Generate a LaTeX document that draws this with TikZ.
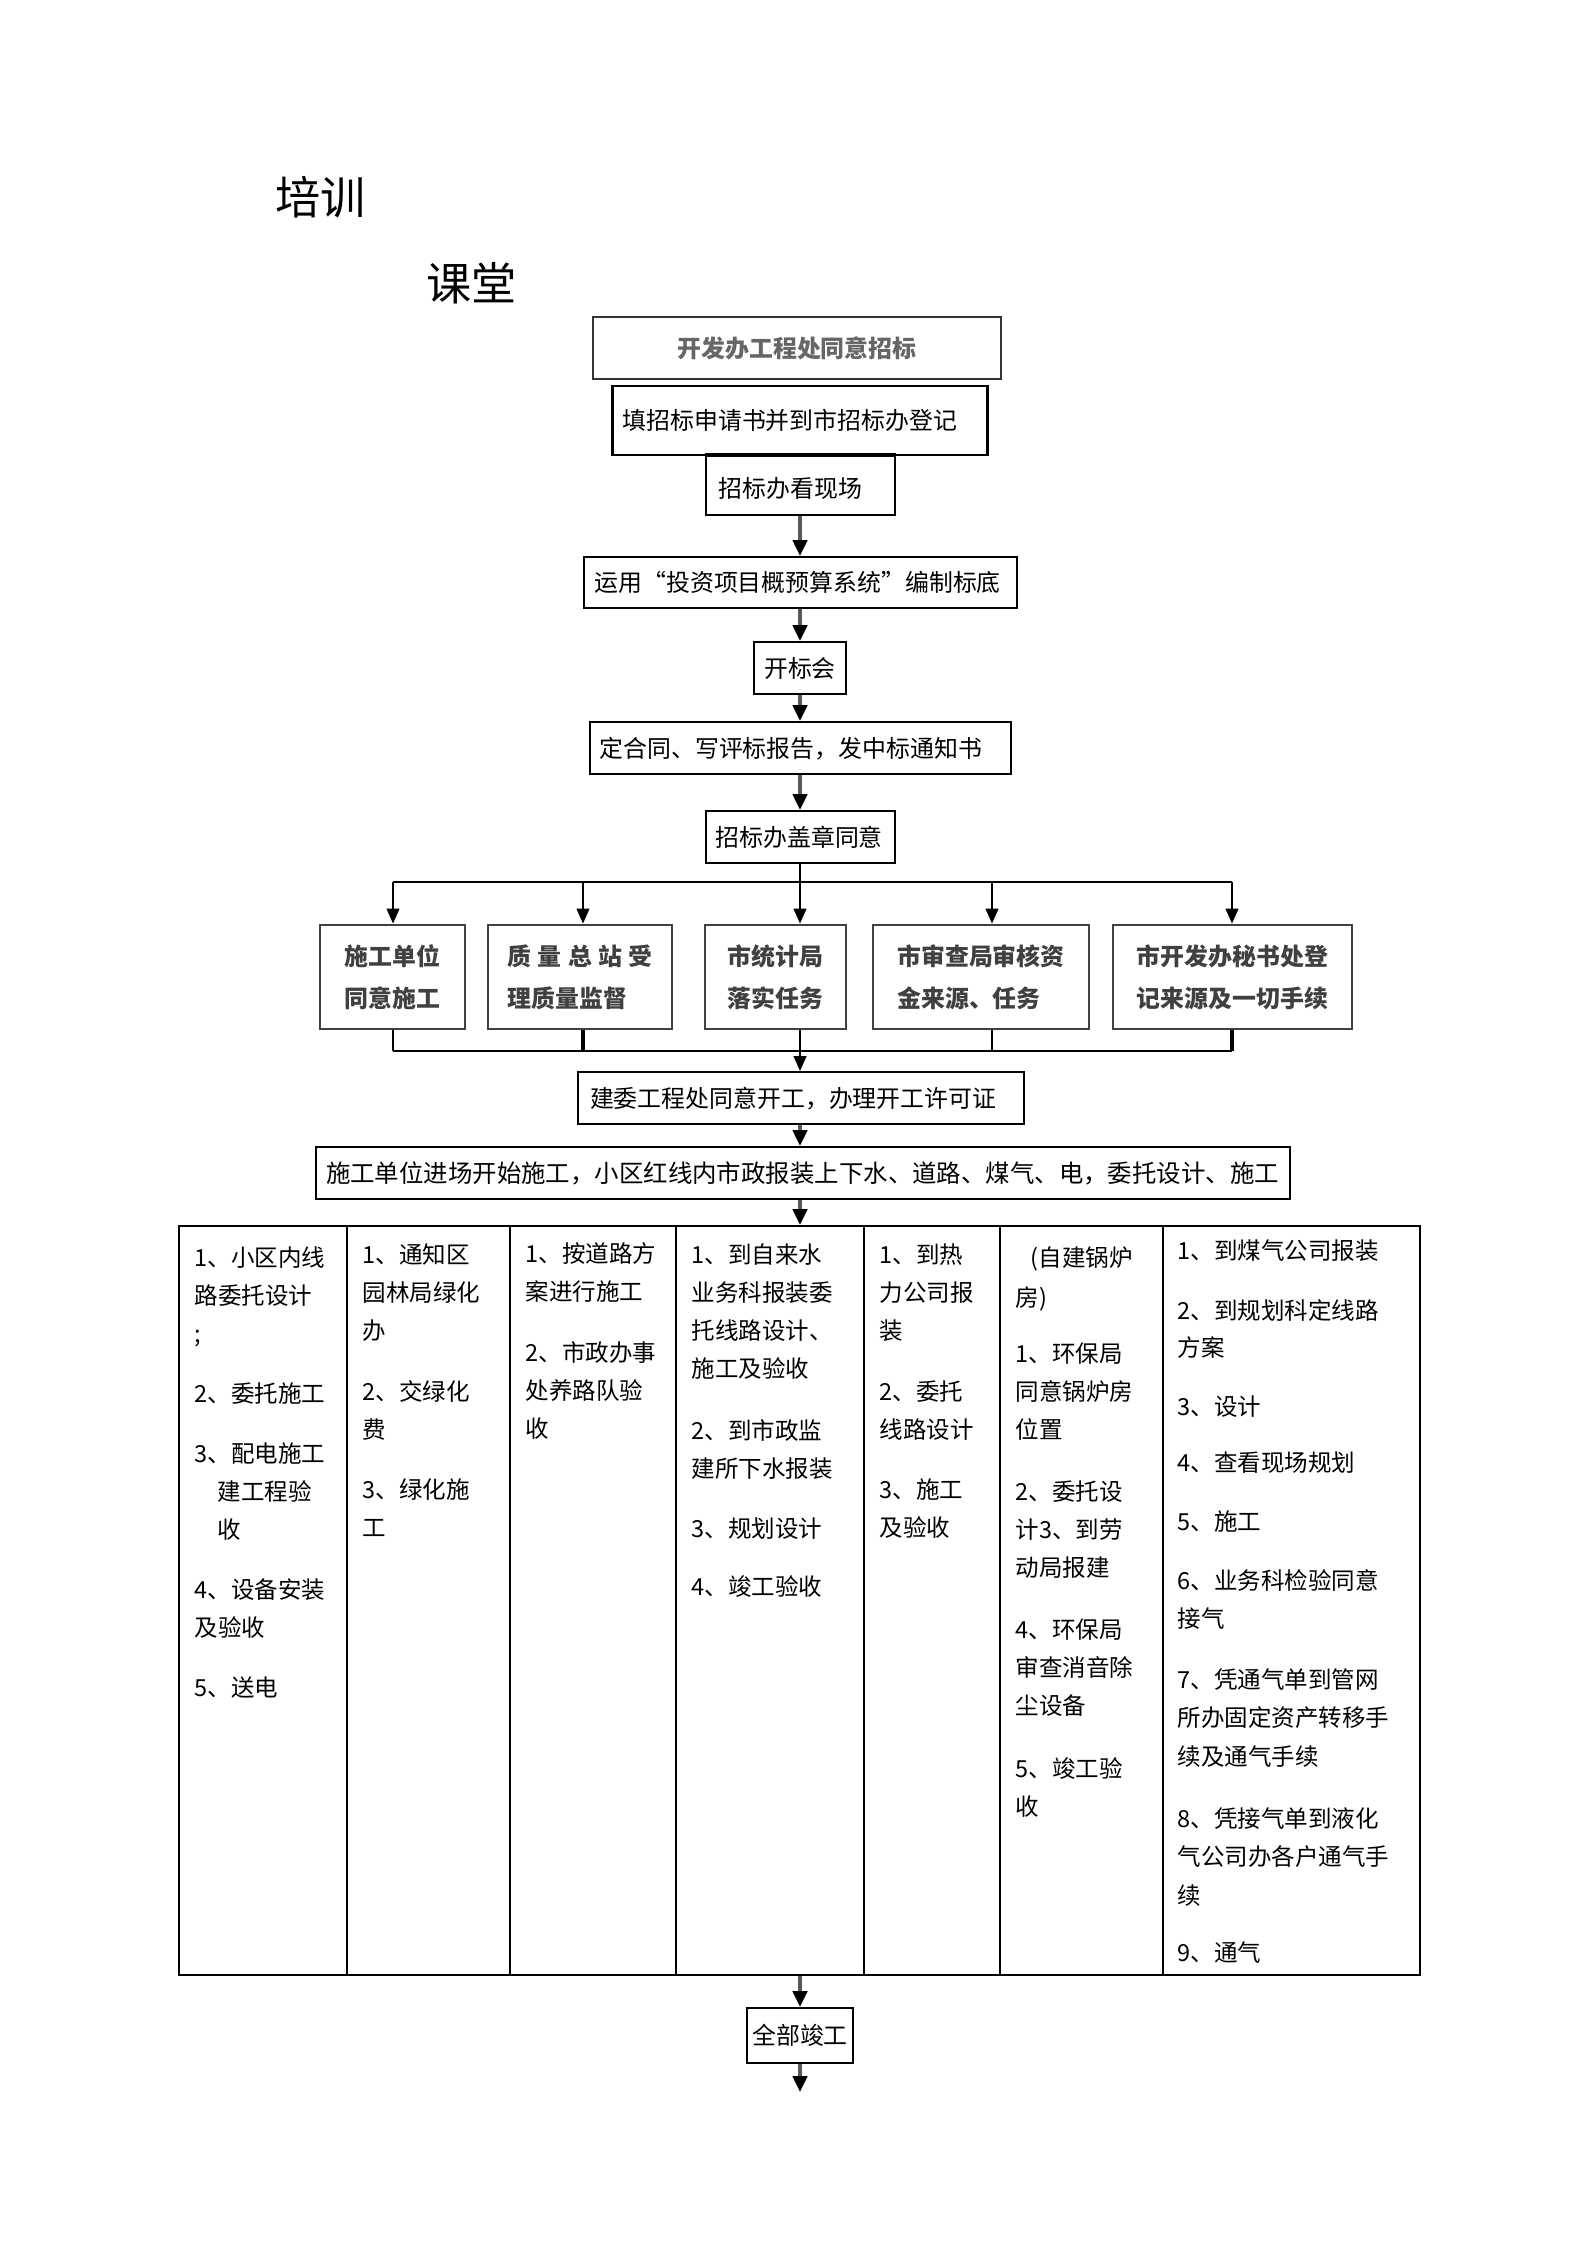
\documentclass[tikz,border=0pt]{standalone}
\usepackage{fontspec}
\setmainfont{Noto Sans CJK SC}
\usetikzlibrary{arrows.meta}
\newdimen\pxu
\pxu=0.3765pt
\begin{document}
\begin{tikzpicture}[x=0.3765pt,y=-0.3765pt,
  hz/.style={text height=7.9pt,text depth=1.1pt},
  bx/.style={draw=black,line width=0.75pt,inner sep=0pt,font=\fontsize{9pt}{11pt}\selectfont,hz},
  hb/.style={draw=black!75,line width=1.1pt,inner sep=0pt,minimum height=104\pxu,align=left,text=black!75,font=\fontsize{9pt}{15.8pt}\selectfont\bfseries},
  arr/.style={draw=black!65,line width=1.3pt,-{Triangle[width=5.4pt,length=6pt,color=black]}},
  tarr/.style={draw=black,line width=0.6pt,-{Triangle[width=4.8pt,length=5.6pt]}},
  ln/.style={draw=black,line width=0.6pt},
  cell/.style={anchor=west,inner sep=0pt,font=\fontsize{8.85pt}{10pt}\selectfont,hz},
  ttl/.style={anchor=west,inner sep=0pt,font=\fontsize{17pt}{20pt}\selectfont,text height=15pt,text depth=2pt}
]
\useasboundingbox (0,0) rectangle (1587,2245);

% titles
\node[ttl] (ti1) at (275,197) {培训};
\node[ttl] (ti2) at (426,283) {课堂};

% main chain
\node[bx,draw=black!80,line width=1.1pt,minimum width=408\pxu,minimum height=62\pxu,text=black!60,font=\fontsize{9pt}{11pt}\selectfont\bfseries] (a) at (797,348) {开发办工程处同意招标};
\node[bx,line width=1.1pt,minimum width=375\pxu,minimum height=69\pxu] (b) at (800,420.5) {\makebox[355\pxu][l]{填招标申请书并到市招标办登记}};
\node[bx,minimum width=189\pxu,minimum height=59\pxu] (c) at (800,485.5) {\makebox[163\pxu][l]{\raisebox{-3\pxu}{招标办看现场}}};
\draw[line width=1.5pt] (c.north west) -- (c.north east);
\node[bx,minimum width=433\pxu,minimum height=51\pxu] (d) at (800,582.5) {\makebox[411\pxu][l]{运用“投资项目概预算系统”编制标底}};
\node[bx,minimum width=92\pxu,minimum height=52\pxu] (e) at (800,668) {开标会};
\node[bx,minimum width=421\pxu,minimum height=52\pxu] (f) at (800,748) {\makebox[401\pxu][l]{定合同、写评标报告，发中标通知书}};
\node[bx,minimum width=189\pxu,minimum height=52\pxu] (g) at (800,837) {\makebox[169\pxu][l]{招标办盖章同意}};

\draw[arr] (c) -- (d);
\draw[arr] (d) -- (e);
\draw[arr] (e) -- (f);
\draw[arr] (f) -- (g);

% five parallel boxes
\node[hb,minimum width=145\pxu] (h1) at (392.5,977) {施工单位\\同意施工};
\node[hb,minimum width=184\pxu] (h2) at (580,977) {\makebox[145\pxu][s]{质\hfill{}量\hfill{}总\hfill{}站\hfill{}受}\\理质量监督};
\node[hb,minimum width=141\pxu] (h3) at (775.5,977) {市统计局\\落实任务};
\node[hb,minimum width=216\pxu] (h4) at (981,977) {市审查局审核资\\金来源、任务};
\node[hb,minimum width=239\pxu] (h5) at (1232.5,977) {市开发办秘书处登\\记来源及一切手续};

\coordinate (t1) at (393,882);
\coordinate (t2) at (583,882);
\coordinate (t3) at (800,882);
\coordinate (t4) at (992,882);
\coordinate (t5) at (1232,882);
\draw[ln] (t1) -- (t5);
\draw[ln] (g) -- (t3);
\foreach \i/\h in {1/h1,2/h2,3/h3,4/h4,5/h5}
  \draw[tarr] (t\i) -- (t\i |- \h.north);

\coordinate (u1) at (393,1051);
\coordinate (u2) at (583,1051);
\coordinate (u3) at (800,1051);
\coordinate (u4) at (992,1051);
\coordinate (u5) at (1232,1051);
\draw[ln] (u1) -- (u5);
\draw[ln] (h1.south -| u1) -- (u1);
\draw[ln,line width=1.5pt] (h2.south -| u2) -- (u2);
\draw[ln] (h3.south -| u3) -- (u3);
\draw[ln] (h4.south -| u4) -- (u4);
\draw[ln,line width=1.5pt] (h5.south -| u5) -- (u5);

\node[bx,minimum width=446\pxu,minimum height=52\pxu] (i) at (801,1098) {\makebox[422\pxu][l]{建委工程处同意开工，办理开工许可证}};
\draw[tarr] (u3) -- (u3 |- i.north);

\node[bx,minimum width=974\pxu,minimum height=52\pxu,font=\fontsize{9.2pt}{11pt}\selectfont] (j) at (803,1173) {\makebox[954\pxu][l]{施工单位进场开始施工，小区红线内市政报装上下水、道路、煤气、电，委托设计、施工}};
\draw[arr] (i.south -| u3) -- (j.north -| u3);

% table
\node[draw,line width=0.75pt,inner sep=0pt,minimum width=1241\pxu,minimum height=749\pxu] (tbl) at (799.5,1600.5) {};
\draw[arr] (j.south -| u3) -- (tbl.north -| u3);
\foreach \cx in {347,510,676,864,1000,1163}
  \draw[line width=0.75pt] (\cx,1226) -- (\cx,1975);

\foreach \yy/\ttx in {1257/1、小区内线,1295/路委托设计,1333/;,1393/2、委托施工,1453/3、配电施工,1589/4、设备安装,1627/及验收,1687/5、送电}
  \node[cell] (ca-\yy) at (194,\yy) {\ttx};
\foreach \yy/\ttx in {1491/建工程验,1529/收}
  \node[cell] (cb-\yy) at (217,\yy) {\ttx};
\foreach \yy/\ttx in {1254/1、通知区,1292/园林局绿化,1330/办,1391/2、交绿化,1429/费,1489/3、绿化施,1527/工}
  \node[cell] (cc-\yy) at (362,\yy) {\ttx};
\foreach \yy/\ttx in {1253/1、按道路方,1291/案进行施工,1352/2、市政办事,1390/处养路队验,1428/收}
  \node[cell] (cd-\yy) at (525,\yy) {\ttx};
\foreach \yy/\ttx in {1254/1、到自来水,1292/业务科报装委,1330/托线路设计、,1368/施工及验收,1430/2、到市政监,1468/建所下水报装,1528/3、规划设计,1586/4、竣工验收}
  \node[cell] (ce-\yy) at (691,\yy) {\ttx};
\foreach \yy/\ttx in {1254/1、到热,1292/力公司报,1330/装,1391/2、委托,1429/线路设计,1489/3、施工,1527/及验收}
  \node[cell] (cf-\yy) at (879,\yy) {\ttx};
\node[cell] (cg-0) at (1030,1257) {(自建锅炉};
\foreach \yy/\ttx in {1297/房),1353/1、环保局,1391/同意锅炉房,1429/位置,1491/2、委托设,1529/计3、到劳,1567/动局报建,1629/4、环保局,1667/审查消音除,1705/尘设备,1768/5、竣工验,1806/收}
  \node[cell] (cg-\yy) at (1015,\yy) {\ttx};
\foreach \yy/\ttx in {1250/1、到煤气公司报装,1310/2、到规划科定线路,1347/方案,1406/3、设计,1462/4、查看现场规划,1521/5、施工,1580/6、业务科检验同意,1618/接气,1679/7、凭通气单到管网,1717/所办固定资产转移手,1756/续及通气手续,1818/8、凭接气单到液化,1856/气公司办各户通气手,1895/续,1952/9、通气}
  \node[cell] (ch-\yy) at (1177,\yy) {\ttx};

% final
\node[bx,minimum width=106\pxu,minimum height=55\pxu] (k) at (800,2035.5) {全部竣工};
\draw[arr] (tbl.south -| k.north) -- (k.north);
\coordinate (kend) at (800,2092);
\draw[arr] (k.south) -- (kend);
\end{tikzpicture}
\end{document}
